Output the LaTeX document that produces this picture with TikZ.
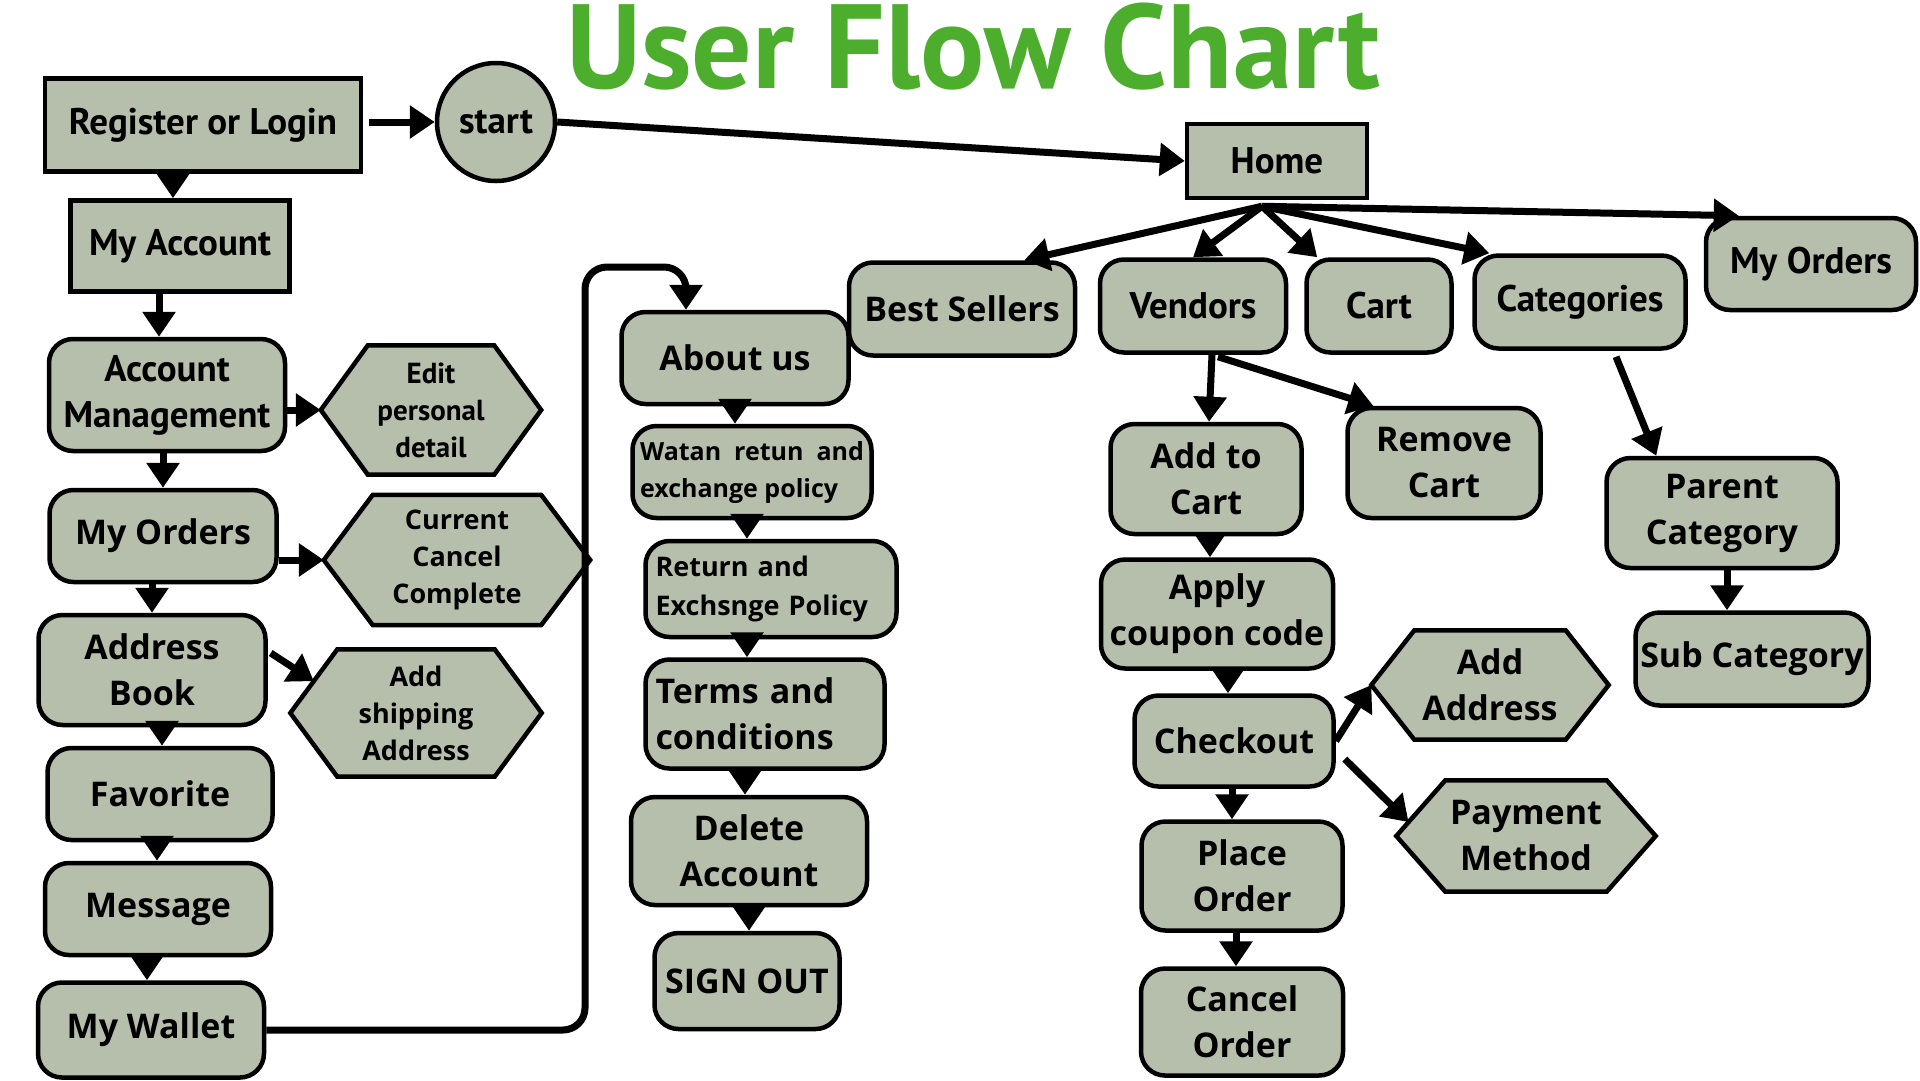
\documentclass[tikz,border=0pt]{standalone}
\usepackage{fontspec}
\setmainfont{Open Sans}
\newfontfamily\cond{PT Sans}
\usetikzlibrary{arrows.meta,calc}
\definecolor{boxfill}{RGB}{182,191,171}
\definecolor{titlegreen}{RGB}{77,174,45}
\pgfdeclarelayer{bgwhite}
\pgfdeclarelayer{hexl}
\pgfsetlayers{bgwhite,hexl,main}
\tikzset{
  base/.style={draw, line width=4.5pt, fill=boxfill, inner sep=0pt, align=center,
    font=\bfseries\fontsize{34}{46}\selectfont},
  rbox/.style={base, rounded corners=24pt},
  sbox/.style={base},
  condf/.style={font=\cond\bfseries\fontsize{37}{46}\selectfont},
  hexlbl/.style={inner sep=0pt, align=center, font=\bfseries\fontsize{27}{37}\selectfont},
  hexshape/.style={draw, line width=4.5pt, fill=boxfill, line join=miter},
  arr/.style={line width=7pt, -{Triangle[width=32pt,length=25pt]}},
}
% optional extra style, name, cx, cy, w, h, inset, text
\newcommand{\hexa}[8][]{%
  \node[hexlbl, minimum width=#5, minimum height=#6, #1] (#2) at (#3,#4) {#8};
  \coordinate (#2-nw) at ($(#2.north west)+(#7,0)$);
  \coordinate (#2-ne) at ($(#2.north east)+(-#7,0)$);
  \coordinate (#2-se) at ($(#2.south east)+(-#7,0)$);
  \coordinate (#2-sw) at ($(#2.south west)+(#7,0)$);
  \begin{pgfonlayer}{hexl}
    \draw[hexshape] (#2.west) -- (#2-nw) -- (#2-ne) -- (#2.east) -- (#2-se) -- (#2-sw) -- cycle;
  \end{pgfonlayer}}
\newcommand{\bx}[6]{\node[#1, minimum width=#5, minimum height=#6] (#2) at (#3,#4)}
\begin{document}
\begin{tikzpicture}[x=1pt,y=-1pt]
\useasboundingbox (0,0) rectangle (1920,1080);
\begin{pgfonlayer}{bgwhite}
  \fill[white] (0,0) rectangle (1920,1080);
\end{pgfonlayer}

% title
\node[font=\cond\bfseries\fontsize{100}{110}\selectfont, text=titlegreen, anchor=base, inner sep=0pt]
  (title) at (973,88) {\resizebox{814pt}{!}{User Flow Chart}};

% left column
\bx{sbox,condf}{reg}{203}{125}{316}{93} {Register or Login};
\node[base, condf, circle, minimum size=118] (st) at (496,122) {start};
\bx{sbox,condf}{ma}{180}{246}{219}{91} {My Account};
\bx{rbox,condf}{am}{167}{395}{236}{112} {Account\\Management};
\hexa[font=\cond\bfseries\fontsize{29}{37}\selectfont]{ed}{431}{410}{220}{129}{47}{Edit\\personal\\detail}
\bx{rbox}{mo}{163}{536}{227}{92} {My Orders};
\hexa{cur}{457}{560}{266}{130}{49}{Current\\Cancel\\Complete}
\bx{rbox}{ab}{152}{670}{227}{110} {Address\\Book};
\hexa{sh}{416}{713}{251}{127}{47}{Add\\shipping\\Address}
\bx{rbox}{fav}{160}{794}{225}{92} {Favorite};
\bx{rbox}{msg}{158}{909}{226}{92} {Message};
\bx{rbox}{mw}{151}{1030}{226}{95} {My Wallet};

% middle column
\bx{rbox}{about}{735}{358}{227}{92} {About us};
\bx{rbox,font=\bfseries\fontsize{25}{37}\selectfont, align=left}{wt}{752}{472}{239}{92} {Watan\ \ retun\ \ and\\exchange policy};
\bx{rbox,font=\bfseries\fontsize{27}{39}\selectfont, align=left, inner xsep=10pt, text width=231pt}{ret}{771}{589}{251}{96} {Return and\\Exchsnge Policy};
\bx{rbox, align=left, inner xsep=10pt, text width=219pt}{tc}{765}{714}{239}{109} {Terms and\\conditions};
\bx{rbox}{del}{749}{851}{236}{108} {Delete\\Account};
\bx{rbox}{so}{747}{981}{185}{96} {SIGN OUT};

% top right row
\bx{sbox,condf}{home}{1277}{161}{180}{74} {Home};
\bx{rbox}{bs}{962}{309}{226}{93} {Best Sellers};
\bx{rbox,condf}{ven}{1193}{306}{186}{93} {Vendors};
\bx{rbox,condf}{cart}{1379}{306}{145}{93} {Cart};
\bx{rbox,condf}{cat}{1580}{302}{211}{93} {Categories};
\bx{rbox,condf}{mor}{1811}{264}{210}{92} {My Orders};

% vendors branch
\bx{rbox}{atc}{1206}{479}{191}{110} {Add to\\Cart};
\bx{rbox}{rc}{1444}{463}{193}{110} {Remove\\Cart};
\bx{rbox}{ap}{1217}{614}{232}{109} {Apply\\coupon code};
\bx{rbox}{co}{1234}{741}{199}{91} {Checkout};
\hexa[font=\bfseries\fontsize{34}{46}\selectfont]{aa}{1490}{685}{237}{109}{43}{Add\\Address}
\hexa[font=\bfseries\fontsize{34}{46}\selectfont]{pm}{1526}{836}{259}{111}{49}{Payment\\Method}
\bx{rbox}{po}{1242}{876}{201}{109} {Place\\Order};
\bx{rbox}{cn}{1242}{1022}{202}{107} {Cancel\\Order};

% categories branch
\bx{rbox}{pc}{1722}{513}{231}{110} {Parent\\Category};
\bx{rbox}{sub}{1752}{659}{233}{93} {Sub Category};

% ---- connectors ----
\draw[arr] ($(reg.east |- st.west)+(6,0)$) -- (st.west);
\draw[arr] (st.east) -- (home.west);
\draw[arr] ($(reg.south)+(-30,0)$) -- ($(reg.south |- ma.north)+(-30,0)$);
\draw[arr] ($(ma.south)+(-21,0)$) -- ($(ma.south |- am.north)+(-21,0)$);
\draw[arr] (am.east |- ed.west) -- (ed.west);
\draw[arr] (mo.north |- am.south) -- (mo.north);
\draw[arr] (mo.east |- cur.west) -- (cur.west);
\draw[arr] (ab.north |- mo.south) -- (ab.north);
\draw[arr] ($(ab.east)+(3,-17)$) -- ($(sh.west)!0.5!(sh-nw)$);
\draw[arr] ($(ab.south)+(10,0)$) -- ($(ab.south |- fav.north)+(10,0)$);
\draw[arr] ($(fav.south)+(-3,0)$) -- ($(fav.south |- msg.north)+(-3,0)$);
\draw[arr] ($(msg.south)+(-11,0)$) -- ($(msg.south |- mw.north)+(-11,0)$);

\coordinate (bend) at (585,267);
\coordinate (aboutin) at ($(about.north)+(-49,0)$);
\draw[arr, rounded corners=22pt] (mw.east) -| (bend) -| (aboutin);

\draw[arr] (about.south) -- (about.south |- wt.north);
\draw[arr] ($(wt.south)+(-5,0)$) -- ($(wt.south |- ret.north)+(-5,0)$);
\draw[arr] ($(ret.south)+(-24,0)$) -- ($(ret.south |- tc.north)+(-24,0)$);
\draw[arr] ($(tc.south)+(-20,0)$) -- ($(tc.south |- del.north)+(-20,0)$);
\draw[arr] (del.south) -- (del.south |- so.north);

\coordinate (fan) at ($(home.south)+(-15,6)$);
\draw[arr] (fan) -- ($(bs.north east)+(-53,0)$);
\draw[arr] (fan) -- (ven.north);
\draw[arr] (fan) -- ($(cart.north west)+(13,0)$);
\draw[arr] (fan) -- ($(cat.north west)+(17,0)$);
\draw[arr] (fan) -- ($(mor.north west)+(35,0)$);

\draw[arr] ($(ven.south)+(19,0)$) -- ($(atc.north)+(3,0)$);
\draw[arr] ($(ven.south)+(25,2)$) -- ($(rc.north west)+(28,0)$);
\draw[arr] ($(cat.south)+(36,6)$) -- ($(pc.north west)+(52,0)$);
\draw[arr] ($(pc.south)+(5,0)$) -- ($(pc.south |- sub.north)+(5,0)$);
\draw[arr] ($(atc.south)+(4,0)$) -- ($(atc.south |- ap.north)+(4,0)$);
\draw[arr] ($(ap.south)+(11,0)$) -- ($(ap.south |- co.north)+(11,0)$);
\draw[arr] (co.east) -- (aa.west);
\draw[arr] ($(co.east)+(9,18)$) -- ($(pm.west)!0.25!(pm-nw)$);
\draw[arr] ($(co.south)+(-2,0)$) -- ($(co.south |- po.north)+(-2,0)$);
\draw[arr] ($(po.south)+(-6,0)$) -- ($(po.south |- cn.north)+(-6,0)$);
\end{tikzpicture}
\end{document}
